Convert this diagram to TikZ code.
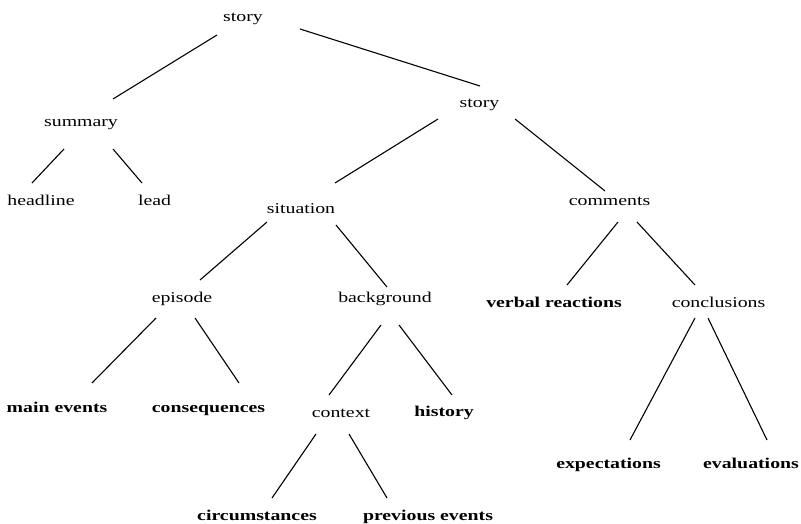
\documentclass[tikz,border=0pt]{standalone}
\usepackage{fontspec}
\setmainfont{Liberation Serif}
\newcommand\wtext[1]{\scalebox{1.32}[1]{#1}}
\tikzset{
  lbl/.style={inner sep=0pt, anchor=base, font=\fontsize{15}{18}\selectfont},
  blbl/.style={lbl, font=\fontsize{15}{18}\selectfont\bfseries},
  edge/.style={line width=1.1pt, black}
}
\begin{document}
\begin{tikzpicture}[x=1pt,y=-1pt]
\useasboundingbox (0,0) rectangle (801,524);
\node[lbl] (story) at (243,22) {\wtext{story}};
\node[lbl] (summary) at (81,127) {\wtext{summary}};
\node[lbl] (headline) at (41,206) {\wtext{headline}};
\node[lbl] (lead) at (154.5,206) {\wtext{lead}};
\node[lbl] (story2) at (479.5,108) {\wtext{story}};
\node[lbl] (situation) at (301,213) {\wtext{situation}};
\node[lbl] (comments) at (609.5,206) {\wtext{comments}};
\node[lbl] (episode) at (182,302) {\wtext{episode}};
\node[lbl] (background) at (385,302) {\wtext{background}};
\node[blbl] (verbal) at (554,307) {\wtext{verbal reactions}};
\node[lbl] (conclusions) at (718.5,307) {\wtext{conclusions}};
\node[blbl] (main) at (57,412) {\wtext{main events}};
\node[blbl] (conseq) at (208.5,412) {\wtext{consequences}};
\node[lbl] (context) at (341,417) {\wtext{context}};
\node[blbl] (history) at (444,416) {\wtext{history}};
\node[blbl] (circ) at (257,520) {\wtext{circumstances}};
\node[blbl] (prev) at (428,520) {\wtext{previous events}};
\node[blbl] (expect) at (608.5,468) {\wtext{expectations}};
\node[blbl] (eval) at (751,468) {\wtext{evaluations}};

\draw[edge] ([shift={(-26,13)}]story.base) -- ([shift={(32,-28)}]summary.base);
\draw[edge] ([shift={(57,7)}]story.base) -- ([shift={(0.5,-22)}]story2.base);
\draw[edge] ([shift={(-17,22)}]summary.base) -- ([shift={(-9,-23)}]headline.base);
\draw[edge] ([shift={(32,22)}]summary.base) -- ([shift={(-12.5,-23)}]lead.base);
\draw[edge] ([shift={(-41.5,11)}]story2.base) -- ([shift={(34,-30)}]situation.base);
\draw[edge] ([shift={(35.5,11)}]story2.base) -- ([shift={(-4.5,-15)}]comments.base);
\draw[edge] ([shift={(-34,9)}]situation.base) -- ([shift={(18,-22)}]episode.base);
\draw[edge] ([shift={(35,12)}]situation.base) -- ([shift={(2,-15)}]background.base);
\draw[edge] ([shift={(8.5,16)}]comments.base) -- ([shift={(13,-22)}]verbal.base);
\draw[edge] ([shift={(27.5,16)}]comments.base) -- ([shift={(-23.5,-22)}]conclusions.base);
\draw[edge] ([shift={(-26,16)}]episode.base) -- ([shift={(35,-29)}]main.base);
\draw[edge] ([shift={(13,16)}]episode.base) -- ([shift={(30.5,-29)}]conseq.base);
\draw[edge] ([shift={(-4,23)}]background.base) -- ([shift={(-12,-22)}]context.base);
\draw[edge] ([shift={(14,23)}]background.base) -- ([shift={(8,-21)}]history.base);
\draw[edge] ([shift={(-25,17)}]context.base) -- ([shift={(15,-22)}]circ.base);
\draw[edge] ([shift={(8,17)}]context.base) -- ([shift={(-41,-22)}]prev.base);
\draw[edge] ([shift={(-23.5,11)}]conclusions.base) -- ([shift={(21.5,-28)}]expect.base);
\draw[edge] ([shift={(-10.5,11)}]conclusions.base) -- ([shift={(16,-28)}]eval.base);
\end{tikzpicture}
\end{document}
